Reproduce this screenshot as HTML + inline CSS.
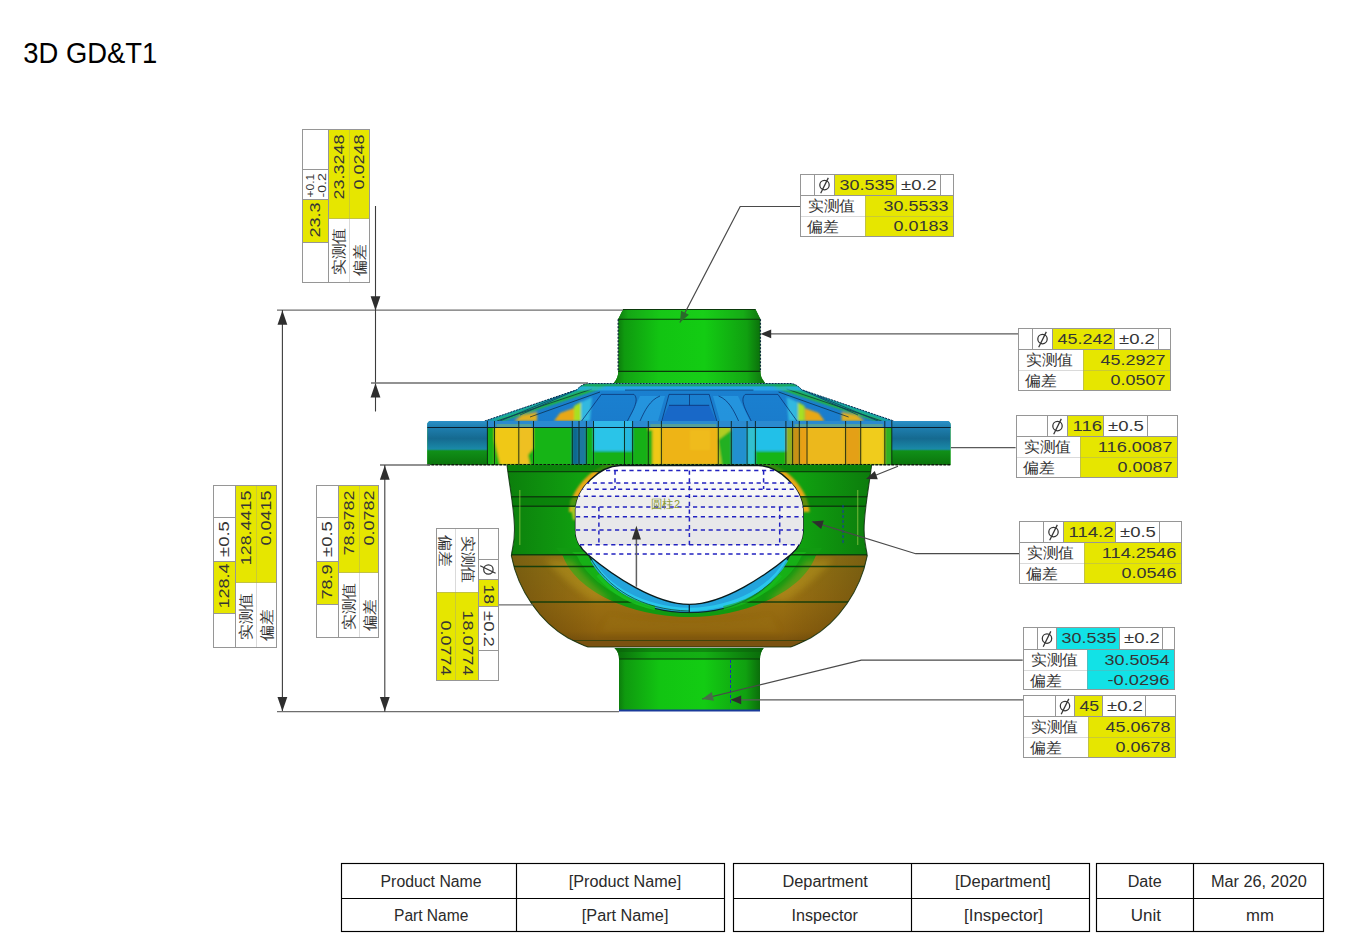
<!DOCTYPE html><html><head><meta charset="utf-8"><style>html,body{margin:0;padding:0;background:#fff;width:1345px;height:951px;overflow:hidden}svg{display:block}</style></head><body>
<svg width="1345" height="951" viewBox="0 0 1345 951" style="font-family:'Liberation Sans', sans-serif">
<rect width="1345" height="951" fill="#fff"/>
<text x="23.30" y="62.90" font-size="29.2" fill="#000" text-anchor="start" textLength="134.00" lengthAdjust="spacingAndGlyphs" >3D GD&amp;T1</text>
<defs>
<filter id="fb" x="-5%" y="-20%" width="110%" height="140%"><feGaussianBlur stdDeviation="1.2"/></filter>
<filter id="fb2" x="-5%" y="-20%" width="110%" height="140%"><feGaussianBlur stdDeviation="0.9"/></filter>
<filter id="fb3" x="-20%" y="-20%" width="140%" height="140%"><feGaussianBlur stdDeviation="3"/></filter>
<linearGradient id="gcyl" x1="0" x2="1" y1="0" y2="0">
 <stop offset="0" stop-color="#0a680a"/><stop offset="0.07" stop-color="#0f9a0f"/>
 <stop offset="0.3" stop-color="#12c412"/><stop offset="0.6" stop-color="#13cc13"/>
 <stop offset="0.88" stop-color="#10a010"/><stop offset="1" stop-color="#0a600a"/>
</linearGradient>
<linearGradient id="gcyl2" x1="0" x2="1" y1="0" y2="0">
 <stop offset="0" stop-color="#0a6a0a"/><stop offset="0.25" stop-color="#12a812"/>
 <stop offset="0.6" stop-color="#14b014"/><stop offset="1" stop-color="#0a6a0a"/>
</linearGradient>
<linearGradient id="gbody" x1="0" x2="1" y1="0" y2="0">
 <stop offset="0" stop-color="#0c7e0c"/><stop offset="0.2" stop-color="#10a010"/>
 <stop offset="0.8" stop-color="#10a010"/><stop offset="1" stop-color="#0c7a0c"/>
</linearGradient>
<linearGradient id="gbrown" x1="0" x2="0" y1="0" y2="1">
 <stop offset="0" stop-color="#9c7c16"/><stop offset="0.5" stop-color="#9a7012"/>
 <stop offset="0.82" stop-color="#8e620e"/><stop offset="1" stop-color="#6e4a0c"/>
</linearGradient>
<linearGradient id="gbrownx" x1="0" x2="1" y1="0" y2="0">
 <stop offset="0" stop-color="#000" stop-opacity="0.25"/><stop offset="0.25" stop-color="#000" stop-opacity="0"/>
 <stop offset="0.75" stop-color="#000" stop-opacity="0"/><stop offset="1" stop-color="#000" stop-opacity="0.25"/>
</linearGradient>
<linearGradient id="gteal" x1="0" x2="0" y1="0" y2="1">
 <stop offset="0" stop-color="#2a90c8"/><stop offset="0.14" stop-color="#1f7fb0"/><stop offset="0.4" stop-color="#156a90"/>
 <stop offset="0.64" stop-color="#1a8aa8"/><stop offset="0.68" stop-color="#109018"/>
 <stop offset="1" stop-color="#0b740c"/>
</linearGradient>
<linearGradient id="gcone" x1="0" x2="0" y1="0" y2="1">
 <stop offset="0" stop-color="#2098e0"/><stop offset="0.2" stop-color="#1a80d0"/>
 <stop offset="1" stop-color="#1a7ccc"/>
</linearGradient>
<clipPath id="cbody"><path d="M507,465 C510,490 514.5,510 514.5,530 C514.5,545 511.5,550 511.4,556 C518,590 540,622 568,638 C576,642 582,645 588,647 L790.6,647 C796.6,645 802.6,642 810.6,638 C838.6,622 860.6,590 867.2,556 C867.1,550 864.1,545 864.1,530 C864.1,510 868.6,490 871.6,465 Z"/></clipPath>
<clipPath id="cflange"><path d="M427.3,425 Q427.3,421 431.5,421 L946.4,421 Q950.6,421 950.6,425 L950.6,464.7 L427.3,464.7 Z"/></clipPath>
<clipPath id="ccone"><path d="M484.7,421 L576.8,389.7 Q582,384 587.7,383.5 L791,383.5 Q796.5,384 801.8,389.7 L893.9,421 Z"/></clipPath>
</defs>
<path d="M613.8,383 C617,379 618.2,376 618.2,371.4 L618.2,319.2 L623,309.5 L755.6,309.5 L760.4,319.2 L760.4,371.4 C760.4,376 762,379 765,383 Z" fill="url(#gcyl)"/>
<path d="M623,309.5 L755.6,309.5 L760.4,319.2 L618.2,319.2 Z" fill="url(#gcyl)"/>
<path d="M623,309.5 L755.6,309.5 L760.4,319.2 L618.2,319.2 Z" fill="#30e030" opacity="0.18"/>
<path d="M618.2,371.4 L760.4,371.4 C760.4,376 762,379 765,383 L613.8,383 C617,379 618.2,376 618.2,371.4 Z" fill="url(#gcyl)"/>
<path d="M618.2,371.4 L760.4,371.4 C760.4,376 762,379 765,383 L613.8,383 C617,379 618.2,376 618.2,371.4 Z" fill="#30e030" opacity="0.15"/>
<path d="M623,309.5 L755.6,309.5 M618.2,319.2 L760.4,319.2 M618.2,371.4 L760.4,371.4" stroke="#0b3a0b" stroke-width="1.1" fill="none"/>
<path d="M618.2,319.2 L618.2,371.4 M760.4,319.2 L760.4,371.4" stroke="#0a2a3a" stroke-width="1.3" fill="none" stroke-dasharray="2,1.5"/>
<g clip-path="url(#ccone)">
<rect x="480" y="383" width="420" height="40" fill="url(#gcone)"/>
<g filter="url(#fb2)">
<polygon points="484.7,421.0 587.0,384.0 598.0,385.0 494.0,421.0" fill="#18a8a0"/>
<polygon points="494.0,421.0 598.0,385.0 606.0,387.0 503.0,421.0" fill="#20b838"/>
<polygon points="514.0,421.0 522.0,415.0 537.0,412.0 537.0,421.0" fill="#e0b020"/>
<polygon points="554.0,421.0 560.0,413.0 574.0,408.0 574.0,421.0" fill="#e8a818"/>
<polygon points="574.0,421.0 574.0,406.0 581.0,402.0 581.0,421.0" fill="#a8e020"/>
<polygon points="581.0,421.0 581.0,402.0 592.0,397.0 590.0,421.0" fill="#30b8e0"/>
<polygon points="893.9,421.0 791.6,384.0 780.6,385.0 884.6,421.0" fill="#18a8a0"/>
<polygon points="884.6,421.0 780.6,385.0 772.6,387.0 875.6,421.0" fill="#20b838"/>
<polygon points="864.6,421.0 856.6,415.0 841.6,412.0 841.6,421.0" fill="#e0b020"/>
<polygon points="824.6,421.0 818.6,413.0 804.6,408.0 804.6,421.0" fill="#e8a818"/>
<polygon points="804.6,421.0 804.6,406.0 797.6,402.0 797.6,421.0" fill="#a8e020"/>
<polygon points="797.6,421.0 797.6,402.0 786.6,397.0 788.6,421.0" fill="#30b8e0"/>
</g>
<path d="M497,421 L592,389 M881.6,421 L786.6,389 M530,417 L600,392 M848.6,417 L778.6,392" stroke="#0a2a40" stroke-width="0.9" fill="none" opacity="0.8"/>
<path d="M640,396 L665,396 L658,421 L628,421 Z" fill="#30b0f0" opacity="0.45"/>
<path d="M713,396 L738,396 L750,421 L720,421 Z" fill="#30b0f0" opacity="0.45"/>
<path d="M669,405 L709,405 L716,421 L662,421 Z" fill="#1868c8"/>
<rect x="480" y="383.5" width="420" height="3" fill="#18a850" opacity="0.8"/>
<rect x="480" y="386.5" width="420" height="4" fill="#30b8f0" opacity="0.6"/>
<path d="M625,390.1 L753.4,390.1 M601.3,394.4 L634,394.4 M669,394.4 L709.2,394.4 M745.2,394.4 L777.9,394.4 M669,405.3 L709.2,405.3 M689.5,394.4 L689.5,405.3 M669,394.4 L661.8,421 M709.2,394.4 L716.8,421 M601.3,394.4 L581.6,421 M777.9,394.4 L797,421 M634,394.4 C640,400 632,412 627.4,421 M745.2,394.4 C739,400 747,412 751.2,421 M660,396 C650,400 645,410 640,421 M718.6,396 C728.6,400 733.6,410 738.6,421 M576.8,389.7 L520,415 M801.8,389.7 L858,415 M560,396 L500,421 M818,396 L878,421" stroke="#0a3070" stroke-width="0.9" fill="none" opacity="0.85"/>
</g>
<path d="M484.7,421 L576.8,389.7 Q582,384 587.7,383.5 L791,383.5 Q796.5,384 801.8,389.7 L893.9,421" stroke="#0a2a4a" stroke-width="1" fill="none" stroke-dasharray="2,1"/>
<g clip-path="url(#cflange)">
<rect x="427" y="421" width="524" height="44" fill="#14b014"/>
<g filter="url(#fb)">
<rect x="487.4" y="421" width="7.100000000000023" height="44" fill="#18b018"/>
<rect x="494.5" y="421" width="24.299999999999955" height="44" fill="#f0c818"/>
<rect x="518.8" y="421" width="14.700000000000045" height="44" fill="#eec020"/>
<rect x="533.5" y="421" width="38.799999999999955" height="44" fill="#14b414"/>
<rect x="572.3" y="421" width="14.100000000000023" height="44" fill="#1a78a0"/>
<rect x="586.4" y="421" width="7.100000000000023" height="44" fill="#16b016"/>
<rect x="593.5" y="421" width="31.0" height="44" fill="#2cc4e8"/>
<rect x="624.5" y="421" width="8.100000000000023" height="44" fill="#28b8e0"/>
<rect x="632.6" y="421" width="15.699999999999932" height="44" fill="#14b014"/>
<rect x="648.3" y="421" width="13.100000000000023" height="44" fill="#f0c818"/>
<rect x="661.4" y="421" width="56.89999999999998" height="44" fill="#eeb418"/>
<rect x="718.3" y="421" width="13.0" height="44" fill="#b0cc20"/>
<rect x="731.3" y="421" width="15.800000000000068" height="44" fill="#2090d0"/>
<rect x="747.1" y="421" width="8.299999999999955" height="44" fill="#30c0d0"/>
<rect x="755.4" y="421" width="30.5" height="44" fill="#22c0e8"/>
<rect x="785.9" y="421" width="6.7000000000000455" height="44" fill="#90b020"/>
<rect x="792.6" y="421" width="6.699999999999932" height="44" fill="#c89018"/>
<rect x="799.3" y="421" width="7.7000000000000455" height="44" fill="#e8a018"/>
<rect x="807" y="421" width="38.60000000000002" height="44" fill="#ecb81c"/>
<rect x="845.6" y="421" width="15.100000000000023" height="44" fill="#e4a018"/>
<rect x="860.7" y="421" width="24.09999999999991" height="44" fill="#f0cc1c"/>
<rect x="884.8" y="421" width="7.0" height="44" fill="#30b020"/>
<rect x="593.5" y="451" width="39" height="14" fill="#14b014"/>
<rect x="755.4" y="451" width="30.5" height="14" fill="#14b414"/>
<path d="M494.5,440 L500,465 L494.5,465 Z" fill="#18b018"/>
<path d="M528,455 L533.5,448 L533.5,465 L530,465 Z" fill="#18b018"/>
<path d="M718.3,440 L731.3,430 L731.3,465 L722,465 Z" fill="#20b020"/>
<rect x="648.3" y="430" width="4" height="35" fill="#18b018"/>
<rect x="572.3" y="428" width="5" height="37" fill="#106890"/>
<rect x="690" y="430" width="20" height="20" fill="#f0c020" opacity="0.6"/>
</g>
<rect x="427" y="421" width="524" height="6.7" fill="#2a8ad0"/>
<rect x="496.5" y="424" width="35.0" height="3.7" fill="#a8c830" opacity="0.35"/>
<rect x="650.3" y="424" width="66.0" height="3.7" fill="#a8c830" opacity="0.35"/>
<rect x="794.6" y="424" width="88.19999999999993" height="3.7" fill="#a8c830" opacity="0.35"/>
<rect x="593.5" y="421" width="39" height="6.7" fill="#30b8e8"/>
<rect x="427" y="421" width="60.4" height="44" fill="url(#gteal)"/>
<rect x="891.8" y="421" width="58.8" height="44" fill="url(#gteal)"/>
<path d="M487.4,421 L487.4,465 M494.5,421 L494.5,465 M518.8,421 L518.8,465 M533.5,421 L533.5,465 M572.3,421 L572.3,465 M579,421 L579,465 M586.4,421 L586.4,465 M593.5,421 L593.5,465 M624.5,421 L624.5,465 M632.6,421 L632.6,465 M648.3,421 L648.3,465 M661.4,421 L661.4,465 M718.3,421 L718.3,465 M731.3,421 L731.3,465 M747.1,421 L747.1,465 M755.4,421 L755.4,465 M785.9,421 L785.9,465 M792.6,421 L792.6,465 M799.3,421 L799.3,465 M807,421 L807,465 M845.6,421 L845.6,465 M860.7,421 L860.7,465 M884.8,421 L884.8,465 M891.8,421 L891.8,465" stroke="#0a1a10" stroke-width="1" fill="none" opacity="0.85"/>
<path d="M427,427.5 L951,427.5" stroke="#0a2030" stroke-width="1.1"/>
</g>
<path d="M427.3,464.7 L950.6,464.7" stroke="#0a1a0a" stroke-width="1.4" stroke-dasharray="3,1"/>
<g clip-path="url(#cbody)">
<rect x="505" y="464" width="370" height="92" fill="url(#gbody)"/>
<rect x="505" y="555" width="370" height="93" fill="url(#gbrown)"/>
<rect x="505" y="555" width="370" height="93" fill="url(#gbrownx)"/>
<path d="M560,556 L577,556 C592,582 632,616 689.3,616 C746.6,616 786.6,582 801.6,556 L818.6,556 C800,600 740,622 689.3,622 C638.6,622 578,600 560,556 Z" fill="#b09a1a" opacity="0.0"/>
<path d="M556,548 L563,556 C575,590 630,617 689.3,617 C748.6,617 803.6,590 815.6,556 L822.6,548 Z" fill="#119a11"/>
<path d="M572,552 L577,556 C590,585 635,612 689.3,614 C743.6,612 788.6,585 801.6,556 L806.6,552 Z" fill="#16b016"/>
<g filter="url(#fb3)" opacity="0.4">
<path d="M545,560 C560,575 575,590 592,600 L612,600 C592,585 580,570 572,560 Z" fill="#c0a020"/>
<path d="M833.6,560 C818.6,575 803.6,590 786.6,600 L766.6,600 C786.6,585 798.6,570 806.6,560 Z" fill="#c0a020"/>
<path d="M610,616 C640,625 740,625 770,616 L780,632 L600,632 Z" fill="#a88414" opacity="0.5"/>
</g>
<g filter="url(#fb2)">
<path d="M569,512 C570,488 596,462 620,461 L622,468 C600,468 577,490 577,512 Z" fill="#e8a818"/>
<path d="M809.6,512 C808.6,488 782.6,462 758.6,461 L756.6,468 C778.6,468 801.6,490 801.6,512 Z" fill="#e8a818"/>
<path d="M570,500 C571,508 572,515 573,520 L578,520 L578,500 Z" fill="#a8c820"/>
</g>
<rect x="505" y="465" width="370" height="6.6" fill="#0a800a" opacity="0.8"/>
<rect x="505" y="496.7" width="370" height="9.6" fill="#087a08" opacity="0.6"/>
<path d="M505,471.6 L875,471.6 M505,496.7 L875,496.7 M505,506.3 L875,506.3 M505,554.7 L875,554.7 M505,566.5 L875,566.5 M505,602 L875,602 M566,640.6 L812.6,640.6" stroke="#0b3a0b" stroke-width="1.4" fill="none" opacity="0.9"/>
<rect x="505" y="640.6" width="370" height="7" fill="#7a5210"/>
</g>
<path d="M507,465 C510,490 514.5,510 514.5,530 C514.5,545 511.5,550 511.4,556 C518,590 540,622 568,638 C576,642 582,645 588,647 L790.6,647 C796.6,645 802.6,642 810.6,638 C838.6,622 860.6,590 867.2,556 C867.1,550 864.1,545 864.1,530 C864.1,510 868.6,490 871.6,465" stroke="#0a2a0a" stroke-width="1.1" fill="none" opacity="0.8"/>
<path d="M857.7,490 L857.7,545 M519.8,490 L519.8,545" stroke="#b0d850" stroke-width="1.3" opacity="0.5"/>
<path d="M843,505 L843,545" stroke="#1a30b0" stroke-width="1" stroke-dasharray="3,2"/>
<path d="M575.5,530 C575.5,540 580,548 589.3,556 C605,590 640,612.6 689.3,612.6 C738.6,612.6 773.6,590 789.3,556 C798.6,548 803,540 803,530 Z" fill="#24a4dc" stroke="#0a2a2a" stroke-width="1.3"/>
<path d="M592,560 C606,586 640,608 689.3,609.5 C738.6,608 772.6,586 786.6,560" stroke="#2cd0f0" stroke-width="3.5" fill="none" opacity="0.8"/>
<path d="M598,575 C612,592 630,603 655,608" stroke="#18c020" stroke-width="4" fill="none" opacity="0.9"/>
<path d="M780.6,575 C766.6,592 748.6,603 723.6,608" stroke="#18c020" stroke-width="4" fill="none" opacity="0.6"/>
<path d="M590,557 C607,588 641,610 689.3,611" stroke="#0a3a1a" stroke-width="1" fill="none" opacity="0.7"/>
<path d="M620,465.5 L758.6,465.5 C778.6,466 802.6,488 803.1,510 L803.1,530 C803.1,540 798.6,548 791.2,554.2 C766.6,575 723.6,604.4 689.3,604.4 C655,604.4 612,575 587.4,554.2 C580,548 575.5,540 575.5,530 L575.5,510 C576,488 600,466 620,465.5 Z" fill="#ffffff" stroke="#0a1a1a" stroke-width="1.3"/>
<path d="M689.3,604 L689.3,612" stroke="#0a2a3a" stroke-width="1.3"/>
<clipPath id="cwin"><path d="M620,465.5 L758.6,465.5 C778.6,466 802.6,488 803.1,510 L803.1,530 C803.1,540 798.6,548 791.2,554.2 C766.6,575 723.6,604.4 689.3,604.4 C655,604.4 612,575 587.4,554.2 C580,548 575.5,540 575.5,530 L575.5,510 C576,488 600,466 620,465.5 Z"/></clipPath>
<g clip-path="url(#cwin)">
<rect x="570" y="496" width="240" height="11" fill="#ededed"/>
<rect x="570" y="507" width="240" height="10" fill="#f1f1f1"/>
<rect x="570" y="517" width="240" height="28" fill="#e8e8ea"/>
<rect x="570" y="483" width="240" height="13" fill="#f7f7f7"/>
</g>
<path d="M606,470.5 L775,470.5 M585,483.1 L795,483.1 M579,489.2 L800,489.2 M576,496.3 L803,496.3 M576,507.1 L803,507.1 M576,516.8 L803,516.8 M576,530 L803,530 M580,544.7 L799,544.7 M588,554.1 L791,554.1" stroke="#2222c0" stroke-width="1.5" stroke-dasharray="4.2,3.6" fill="none" clip-path="url(#cwin)"/>
<path d="M615,470.5 L615,489 M763.6,470.5 L763.6,489 M689.4,470.5 L689.4,545 M598.9,507 L598.9,545 M779.7,507 L779.7,545" stroke="#2222c0" stroke-width="1.5" stroke-dasharray="4.2,3.6" fill="none"/>
<text x="651" y="507.5" font-size="11.5" fill="#8a9a38" textLength="29" lengthAdjust="spacingAndGlyphs">圆柱2</text>
<path d="M614.5,648 L763.7,648 C761,651 760,655 760,659 L760,711 L619,711 L619,659 C619,655 618,651 614.5,648 Z" fill="url(#gcyl)"/>
<path d="M614.5,648 L763.7,648 C761,651 760,655 760,659 L619,659 C619,655 618,651 614.5,648 Z" fill="url(#gcyl2)"/>
<path d="M616,648 L762.2,648 C761.5,649 761,650.5 760.8,652 L618.2,652 C618,650.5 617,649 616,648 Z" fill="#0a5a0a" opacity="0.45"/>
<path d="M619,659 L760,659" stroke="#0b3a0b" stroke-width="1.1"/>
<path d="M619,710.5 L760,710.5" stroke="#1a3a9a" stroke-width="2"/>
<path d="M730.5,660 L730.5,705" stroke="#1a30b0" stroke-width="1" stroke-dasharray="3,2"/>
<path d="M277.0,310.1 L623.0,310.1" fill="none" stroke="#6e6e6e" stroke-width="1.3"/>
<path d="M282.4,310.0 L282.4,711.7" fill="none" stroke="#3c3c3c" stroke-width="1.1"/>
<path d="M282.4,310.5 L287.3,324.7 L277.5,324.7 Z" fill="#2e2e2e"/>
<path d="M282.4,711.2 L277.5,697.0 L287.3,697.0 Z" fill="#2e2e2e"/>
<path d="M277.0,711.7 L619.0,711.7" fill="none" stroke="#6e6e6e" stroke-width="1.3"/>
<path d="M375.5,206.0 L375.5,411.5" fill="none" stroke="#3c3c3c" stroke-width="1.1"/>
<path d="M375.5,310.5 L370.6,296.3 L380.4,296.3 Z" fill="#2e2e2e"/>
<path d="M375.5,383.2 L380.4,397.4 L370.6,397.4 Z" fill="#2e2e2e"/>
<path d="M371.0,383.0 L588.0,383.0" fill="none" stroke="#6e6e6e" stroke-width="1.3"/>
<path d="M380.0,465.0 L430.0,465.0" fill="none" stroke="#6e6e6e" stroke-width="1.3"/>
<path d="M384.8,465.0 L384.8,711.7" fill="none" stroke="#3c3c3c" stroke-width="1.1"/>
<path d="M384.8,465.5 L389.7,479.7 L379.9,479.7 Z" fill="#2e2e2e"/>
<path d="M384.8,711.2 L379.9,697.0 L389.7,697.0 Z" fill="#2e2e2e"/>
<path d="M800.4,206.5 L740.2,206.5 L679.9,322.5" fill="none" stroke="#4a4a4a" stroke-width="1.2"/>
<path d="M679.9,322.5 L681.1,310.7 L688.9,314.8 Z" fill="#2a6a2a"/>
<path d="M1018.4,333.9 L770.0,333.9" fill="none" stroke="#5a5a5a" stroke-width="1.3"/>
<path d="M760.5,333.9 L771.2,329.5 L771.2,338.3 Z" fill="#2e2e2e"/>
<path d="M1015.6,447.6 L951.0,447.6" fill="none" stroke="#5a5a5a" stroke-width="1.3"/>
<path d="M898.0,466.2 L870.0,477.5" fill="none" stroke="#4a4a4a" stroke-width="1.2"/>
<path d="M866.0,479.0 L874.8,471.1 L877.8,479.3 Z" fill="#2e2e2e"/>
<path d="M1019.4,553.7 L915.7,553.7 L812.0,521.6" fill="none" stroke="#4a4a4a" stroke-width="1.2"/>
<path d="M812.0,521.6 L823.8,520.6 L821.2,529.1 Z" fill="#2e2e2e"/>
<path d="M1022.7,660.2 L861.3,660.2 L702.2,699.0" fill="none" stroke="#4a4a4a" stroke-width="1.2"/>
<path d="M702.2,699.0 L711.8,692.1 L713.9,700.7 Z" fill="#4a6a4a"/>
<path d="M1023.4,699.8 L740.0,699.8" fill="none" stroke="#5a5a5a" stroke-width="1.3"/>
<path d="M730.5,699.8 L741.2,695.4 L741.2,704.2 Z" fill="#2e2e2e"/>
<path d="M498.6,604.8 L532.6,604.8" fill="none" stroke="#6e6e6e" stroke-width="1.3"/>
<path d="M636.4,586.7 L636.4,535.0" fill="none" stroke="#606060" stroke-width="1.5"/>
<path d="M636.4,525.7 L640.9,539.4 L631.9,539.4 Z" fill="#2e2e2e"/>
<g transform="translate(800,174) rotate(0)">
<rect x="0" y="0" width="154" height="63" fill="#fff"/>
<rect x="34" y="0" width="62" height="21" fill="#e6e600"/>
<rect x="65" y="21" width="89" height="42" fill="#e6e600"/>
<rect x="0.5" y="0.5" width="153" height="62" fill="none" stroke="#969696" stroke-width="1"/>
<line x1="0" y1="21.5" x2="154" y2="21.5" stroke="#969696" stroke-width="1"/>
<line x1="0" y1="42.5" x2="154" y2="42.5" stroke="#969696" stroke-width="1" stroke-opacity="0.35"/>
<line x1="14.5" y1="0" x2="14.5" y2="21" stroke="#969696" stroke-width="1"/>
<line x1="34.5" y1="0" x2="34.5" y2="21" stroke="#969696" stroke-width="1"/>
<line x1="96.5" y1="0" x2="96.5" y2="21" stroke="#969696" stroke-width="1"/>
<line x1="140.5" y1="0" x2="140.5" y2="21" stroke="#969696" stroke-width="1"/>
<line x1="65.5" y1="21" x2="65.5" y2="63" stroke="#969696" stroke-width="1" stroke-opacity="0.45"/>
<circle cx="24.50" cy="11.10" r="4.7" fill="none" stroke="#353535" stroke-width="1.25"/>
<line x1="20.70" y1="19.30" x2="28.30" y2="3.90" stroke="#353535" stroke-width="1.25"/>
<text x="39.50" y="15.90" font-size="15.5" fill="#353535" text-anchor="start" textLength="54.90" lengthAdjust="spacingAndGlyphs" >30.535</text>
<text x="101.00" y="15.90" font-size="15.5" fill="#353535" text-anchor="start" textLength="35.92" lengthAdjust="spacingAndGlyphs" >±0.2</text>
<text x="148.40" y="36.60" font-size="15.5" fill="#353535" text-anchor="end" textLength="64.76" lengthAdjust="spacingAndGlyphs" >30.5533</text>
<text x="148.40" y="57.10" font-size="15.5" fill="#353535" text-anchor="end" textLength="54.90" lengthAdjust="spacingAndGlyphs" >0.0183</text>
<text x="7.8" y="36.80" font-size="15.2" fill="#353535" textLength="47.5" lengthAdjust="spacingAndGlyphs">实测值</text>
<text x="7.4" y="57.80" font-size="15.2" fill="#353535" textLength="31.5" lengthAdjust="spacingAndGlyphs">偏差</text>
</g>
<g transform="translate(1018,328) rotate(0)">
<rect x="0" y="0" width="153" height="63" fill="#fff"/>
<rect x="34" y="0" width="62" height="21" fill="#e6e600"/>
<rect x="65" y="21" width="88" height="42" fill="#e6e600"/>
<rect x="0.5" y="0.5" width="152" height="62" fill="none" stroke="#969696" stroke-width="1"/>
<line x1="0" y1="21.5" x2="153" y2="21.5" stroke="#969696" stroke-width="1"/>
<line x1="0" y1="42.5" x2="153" y2="42.5" stroke="#969696" stroke-width="1" stroke-opacity="0.35"/>
<line x1="14.5" y1="0" x2="14.5" y2="21" stroke="#969696" stroke-width="1"/>
<line x1="34.5" y1="0" x2="34.5" y2="21" stroke="#969696" stroke-width="1"/>
<line x1="96.5" y1="0" x2="96.5" y2="21" stroke="#969696" stroke-width="1"/>
<line x1="140.5" y1="0" x2="140.5" y2="21" stroke="#969696" stroke-width="1"/>
<line x1="65.5" y1="21" x2="65.5" y2="63" stroke="#969696" stroke-width="1" stroke-opacity="0.45"/>
<circle cx="24.50" cy="11.10" r="4.7" fill="none" stroke="#353535" stroke-width="1.25"/>
<line x1="20.70" y1="19.30" x2="28.30" y2="3.90" stroke="#353535" stroke-width="1.25"/>
<text x="39.50" y="15.90" font-size="15.5" fill="#353535" text-anchor="start" textLength="54.90" lengthAdjust="spacingAndGlyphs" >45.242</text>
<text x="101.00" y="15.90" font-size="15.5" fill="#353535" text-anchor="start" textLength="35.92" lengthAdjust="spacingAndGlyphs" >±0.2</text>
<text x="147.40" y="36.60" font-size="15.5" fill="#353535" text-anchor="end" textLength="64.76" lengthAdjust="spacingAndGlyphs" >45.2927</text>
<text x="147.40" y="57.10" font-size="15.5" fill="#353535" text-anchor="end" textLength="54.90" lengthAdjust="spacingAndGlyphs" >0.0507</text>
<text x="7.8" y="36.80" font-size="15.2" fill="#353535" textLength="47.5" lengthAdjust="spacingAndGlyphs">实测值</text>
<text x="7.4" y="57.80" font-size="15.2" fill="#353535" textLength="31.5" lengthAdjust="spacingAndGlyphs">偏差</text>
</g>
<g transform="translate(1016,415) rotate(0)">
<rect x="0" y="0" width="162" height="63" fill="#fff"/>
<rect x="51" y="0" width="36" height="21" fill="#e6e600"/>
<rect x="64" y="21" width="98" height="42" fill="#e6e600"/>
<rect x="0.5" y="0.5" width="161" height="62" fill="none" stroke="#969696" stroke-width="1"/>
<line x1="0" y1="21.5" x2="162" y2="21.5" stroke="#969696" stroke-width="1"/>
<line x1="0" y1="42.5" x2="162" y2="42.5" stroke="#969696" stroke-width="1" stroke-opacity="0.35"/>
<line x1="31.5" y1="0" x2="31.5" y2="21" stroke="#969696" stroke-width="1"/>
<line x1="51.5" y1="0" x2="51.5" y2="21" stroke="#969696" stroke-width="1"/>
<line x1="87.5" y1="0" x2="87.5" y2="21" stroke="#969696" stroke-width="1"/>
<line x1="131.5" y1="0" x2="131.5" y2="21" stroke="#969696" stroke-width="1"/>
<line x1="64.5" y1="21" x2="64.5" y2="63" stroke="#969696" stroke-width="1" stroke-opacity="0.45"/>
<circle cx="41.50" cy="11.10" r="4.7" fill="none" stroke="#353535" stroke-width="1.25"/>
<line x1="37.70" y1="19.30" x2="45.30" y2="3.90" stroke="#353535" stroke-width="1.25"/>
<text x="56.50" y="15.90" font-size="15.5" fill="#353535" text-anchor="start" textLength="29.58" lengthAdjust="spacingAndGlyphs" >116</text>
<text x="92.00" y="15.90" font-size="15.5" fill="#353535" text-anchor="start" textLength="35.92" lengthAdjust="spacingAndGlyphs" >±0.5</text>
<text x="156.40" y="36.60" font-size="15.5" fill="#353535" text-anchor="end" textLength="74.62" lengthAdjust="spacingAndGlyphs" >116.0087</text>
<text x="156.40" y="57.10" font-size="15.5" fill="#353535" text-anchor="end" textLength="54.90" lengthAdjust="spacingAndGlyphs" >0.0087</text>
<text x="7.8" y="36.80" font-size="15.2" fill="#353535" textLength="47.5" lengthAdjust="spacingAndGlyphs">实测值</text>
<text x="7.4" y="57.80" font-size="15.2" fill="#353535" textLength="31.5" lengthAdjust="spacingAndGlyphs">偏差</text>
</g>
<g transform="translate(1019,521) rotate(0)">
<rect x="0" y="0" width="163" height="63" fill="#fff"/>
<rect x="44" y="0" width="52" height="21" fill="#e6e600"/>
<rect x="65" y="21" width="98" height="42" fill="#e6e600"/>
<rect x="0.5" y="0.5" width="162" height="62" fill="none" stroke="#969696" stroke-width="1"/>
<line x1="0" y1="21.5" x2="163" y2="21.5" stroke="#969696" stroke-width="1"/>
<line x1="0" y1="42.5" x2="163" y2="42.5" stroke="#969696" stroke-width="1" stroke-opacity="0.35"/>
<line x1="24.5" y1="0" x2="24.5" y2="21" stroke="#969696" stroke-width="1"/>
<line x1="44.5" y1="0" x2="44.5" y2="21" stroke="#969696" stroke-width="1"/>
<line x1="96.5" y1="0" x2="96.5" y2="21" stroke="#969696" stroke-width="1"/>
<line x1="140.5" y1="0" x2="140.5" y2="21" stroke="#969696" stroke-width="1"/>
<line x1="65.5" y1="21" x2="65.5" y2="63" stroke="#969696" stroke-width="1" stroke-opacity="0.45"/>
<circle cx="34.50" cy="11.10" r="4.7" fill="none" stroke="#353535" stroke-width="1.25"/>
<line x1="30.70" y1="19.30" x2="38.30" y2="3.90" stroke="#353535" stroke-width="1.25"/>
<text x="49.50" y="15.90" font-size="15.5" fill="#353535" text-anchor="start" textLength="45.04" lengthAdjust="spacingAndGlyphs" >114.2</text>
<text x="101.00" y="15.90" font-size="15.5" fill="#353535" text-anchor="start" textLength="35.92" lengthAdjust="spacingAndGlyphs" >±0.5</text>
<text x="157.40" y="36.60" font-size="15.5" fill="#353535" text-anchor="end" textLength="74.62" lengthAdjust="spacingAndGlyphs" >114.2546</text>
<text x="157.40" y="57.10" font-size="15.5" fill="#353535" text-anchor="end" textLength="54.90" lengthAdjust="spacingAndGlyphs" >0.0546</text>
<text x="7.8" y="36.80" font-size="15.2" fill="#353535" textLength="47.5" lengthAdjust="spacingAndGlyphs">实测值</text>
<text x="7.4" y="57.80" font-size="15.2" fill="#353535" textLength="31.5" lengthAdjust="spacingAndGlyphs">偏差</text>
</g>
<g transform="translate(1023,627) rotate(0)">
<rect x="0" y="0" width="152" height="63" fill="#fff"/>
<rect x="33" y="0" width="63" height="22" fill="#12e2e6"/>
<rect x="64" y="22" width="88" height="41" fill="#12e2e6"/>
<rect x="0.5" y="0.5" width="151" height="62" fill="none" stroke="#969696" stroke-width="1"/>
<line x1="0" y1="22.5" x2="152" y2="22.5" stroke="#969696" stroke-width="1"/>
<line x1="0" y1="43.5" x2="152" y2="43.5" stroke="#969696" stroke-width="1" stroke-opacity="0.35"/>
<line x1="14.5" y1="0" x2="14.5" y2="22" stroke="#969696" stroke-width="1"/>
<line x1="33.5" y1="0" x2="33.5" y2="22" stroke="#969696" stroke-width="1"/>
<line x1="96.5" y1="0" x2="96.5" y2="22" stroke="#969696" stroke-width="1"/>
<line x1="139.5" y1="0" x2="139.5" y2="22" stroke="#969696" stroke-width="1"/>
<line x1="64.5" y1="22" x2="64.5" y2="63" stroke="#969696" stroke-width="1" stroke-opacity="0.45"/>
<circle cx="24.00" cy="11.60" r="4.7" fill="none" stroke="#353535" stroke-width="1.25"/>
<line x1="20.20" y1="19.80" x2="27.80" y2="4.40" stroke="#353535" stroke-width="1.25"/>
<text x="38.50" y="16.40" font-size="15.5" fill="#353535" text-anchor="start" textLength="54.90" lengthAdjust="spacingAndGlyphs" >30.535</text>
<text x="101.00" y="16.40" font-size="15.5" fill="#353535" text-anchor="start" textLength="35.92" lengthAdjust="spacingAndGlyphs" >±0.2</text>
<text x="146.40" y="37.60" font-size="15.5" fill="#353535" text-anchor="end" textLength="64.76" lengthAdjust="spacingAndGlyphs" >30.5054</text>
<text x="146.40" y="58.10" font-size="15.5" fill="#353535" text-anchor="end" textLength="61.90" lengthAdjust="spacingAndGlyphs" >-0.0296</text>
<text x="7.8" y="37.80" font-size="15.2" fill="#353535" textLength="47.5" lengthAdjust="spacingAndGlyphs">实测值</text>
<text x="7.4" y="58.80" font-size="15.2" fill="#353535" textLength="31.5" lengthAdjust="spacingAndGlyphs">偏差</text>
</g>
<g transform="translate(1023,695) rotate(0)">
<rect x="0" y="0" width="153" height="63" fill="#fff"/>
<rect x="51" y="0" width="28" height="21" fill="#e6e600"/>
<rect x="65" y="21" width="88" height="42" fill="#e6e600"/>
<rect x="0.5" y="0.5" width="152" height="62" fill="none" stroke="#969696" stroke-width="1"/>
<line x1="0" y1="21.5" x2="153" y2="21.5" stroke="#969696" stroke-width="1"/>
<line x1="0" y1="42.5" x2="153" y2="42.5" stroke="#969696" stroke-width="1" stroke-opacity="0.35"/>
<line x1="32.5" y1="0" x2="32.5" y2="21" stroke="#969696" stroke-width="1"/>
<line x1="51.5" y1="0" x2="51.5" y2="21" stroke="#969696" stroke-width="1"/>
<line x1="79.5" y1="0" x2="79.5" y2="21" stroke="#969696" stroke-width="1"/>
<line x1="122.5" y1="0" x2="122.5" y2="21" stroke="#969696" stroke-width="1"/>
<line x1="65.5" y1="21" x2="65.5" y2="63" stroke="#969696" stroke-width="1" stroke-opacity="0.45"/>
<circle cx="42.00" cy="11.10" r="4.7" fill="none" stroke="#353535" stroke-width="1.25"/>
<line x1="38.20" y1="19.30" x2="45.80" y2="3.90" stroke="#353535" stroke-width="1.25"/>
<text x="56.50" y="15.90" font-size="15.5" fill="#353535" text-anchor="start" textLength="19.72" lengthAdjust="spacingAndGlyphs" >45</text>
<text x="84.00" y="15.90" font-size="15.5" fill="#353535" text-anchor="start" textLength="35.92" lengthAdjust="spacingAndGlyphs" >±0.2</text>
<text x="147.40" y="36.60" font-size="15.5" fill="#353535" text-anchor="end" textLength="64.76" lengthAdjust="spacingAndGlyphs" >45.0678</text>
<text x="147.40" y="57.10" font-size="15.5" fill="#353535" text-anchor="end" textLength="54.90" lengthAdjust="spacingAndGlyphs" >0.0678</text>
<text x="7.8" y="36.80" font-size="15.2" fill="#353535" textLength="47.5" lengthAdjust="spacingAndGlyphs">实测值</text>
<text x="7.4" y="57.80" font-size="15.2" fill="#353535" textLength="31.5" lengthAdjust="spacingAndGlyphs">偏差</text>
</g>
<g transform="translate(302,283) rotate(-90)">
<rect x="0" y="0" width="154" height="68" fill="#fff"/>
<rect x="40" y="0" width="43" height="26" fill="#e6e600"/>
<rect x="64" y="26" width="90" height="42" fill="#e6e600"/>
<rect x="0.5" y="0.5" width="153" height="67" fill="none" stroke="#969696" stroke-width="1"/>
<line x1="0" y1="26.5" x2="154" y2="26.5" stroke="#969696" stroke-width="1"/>
<line x1="0" y1="47.5" x2="154" y2="47.5" stroke="#969696" stroke-width="1" stroke-opacity="0.35"/>
<line x1="40.5" y1="0" x2="40.5" y2="26" stroke="#969696" stroke-width="1"/>
<line x1="40.5" y1="0" x2="40.5" y2="26" stroke="#969696" stroke-width="1"/>
<line x1="83.5" y1="0" x2="83.5" y2="26" stroke="#969696" stroke-width="1"/>
<line x1="113.5" y1="0" x2="113.5" y2="26" stroke="#969696" stroke-width="1"/>
<line x1="64.5" y1="26" x2="64.5" y2="68" stroke="#969696" stroke-width="1" stroke-opacity="0.45"/>
<text x="45.50" y="18.40" font-size="15.5" fill="#353535" text-anchor="start" textLength="35.18" lengthAdjust="spacingAndGlyphs" >23.3</text>
<text x="85.50" y="11.80" font-size="10.5" fill="#353535" text-anchor="start" textLength="23.84" lengthAdjust="spacingAndGlyphs" >+0.1</text>
<text x="85.50" y="24.40" font-size="10.5" fill="#353535" text-anchor="start" textLength="24.32" lengthAdjust="spacingAndGlyphs" >-0.2</text>
<text x="148.40" y="41.60" font-size="15.5" fill="#353535" text-anchor="end" textLength="64.76" lengthAdjust="spacingAndGlyphs" >23.3248</text>
<text x="148.40" y="62.10" font-size="15.5" fill="#353535" text-anchor="end" textLength="54.90" lengthAdjust="spacingAndGlyphs" >0.0248</text>
<text x="7.8" y="41.80" font-size="15.2" fill="#353535" textLength="47.5" lengthAdjust="spacingAndGlyphs">实测值</text>
<text x="7.4" y="62.80" font-size="15.2" fill="#353535" textLength="31.5" lengthAdjust="spacingAndGlyphs">偏差</text>
</g>
<g transform="translate(213,648) rotate(-90)">
<rect x="0" y="0" width="163" height="64" fill="#fff"/>
<rect x="34" y="0" width="52" height="22" fill="#e6e600"/>
<rect x="65" y="22" width="98" height="42" fill="#e6e600"/>
<rect x="0.5" y="0.5" width="162" height="63" fill="none" stroke="#969696" stroke-width="1"/>
<line x1="0" y1="22.5" x2="163" y2="22.5" stroke="#969696" stroke-width="1"/>
<line x1="0" y1="43.5" x2="163" y2="43.5" stroke="#969696" stroke-width="1" stroke-opacity="0.35"/>
<line x1="34.5" y1="0" x2="34.5" y2="22" stroke="#969696" stroke-width="1"/>
<line x1="34.5" y1="0" x2="34.5" y2="22" stroke="#969696" stroke-width="1"/>
<line x1="86.5" y1="0" x2="86.5" y2="22" stroke="#969696" stroke-width="1"/>
<line x1="130.5" y1="0" x2="130.5" y2="22" stroke="#969696" stroke-width="1"/>
<line x1="65.5" y1="22" x2="65.5" y2="64" stroke="#969696" stroke-width="1" stroke-opacity="0.45"/>
<text x="39.50" y="16.40" font-size="15.5" fill="#353535" text-anchor="start" textLength="45.04" lengthAdjust="spacingAndGlyphs" >128.4</text>
<text x="91.00" y="16.40" font-size="15.5" fill="#353535" text-anchor="start" textLength="35.92" lengthAdjust="spacingAndGlyphs" >±0.5</text>
<text x="157.40" y="37.60" font-size="15.5" fill="#353535" text-anchor="end" textLength="74.62" lengthAdjust="spacingAndGlyphs" >128.4415</text>
<text x="157.40" y="58.10" font-size="15.5" fill="#353535" text-anchor="end" textLength="54.90" lengthAdjust="spacingAndGlyphs" >0.0415</text>
<text x="7.8" y="37.80" font-size="15.2" fill="#353535" textLength="47.5" lengthAdjust="spacingAndGlyphs">实测值</text>
<text x="7.4" y="58.80" font-size="15.2" fill="#353535" textLength="31.5" lengthAdjust="spacingAndGlyphs">偏差</text>
</g>
<g transform="translate(316,638) rotate(-90)">
<rect x="0" y="0" width="153" height="63" fill="#fff"/>
<rect x="33" y="0" width="43" height="22" fill="#e6e600"/>
<rect x="65" y="22" width="88" height="41" fill="#e6e600"/>
<rect x="0.5" y="0.5" width="152" height="62" fill="none" stroke="#969696" stroke-width="1"/>
<line x1="0" y1="22.5" x2="153" y2="22.5" stroke="#969696" stroke-width="1"/>
<line x1="0" y1="43.5" x2="153" y2="43.5" stroke="#969696" stroke-width="1" stroke-opacity="0.35"/>
<line x1="33.5" y1="0" x2="33.5" y2="22" stroke="#969696" stroke-width="1"/>
<line x1="33.5" y1="0" x2="33.5" y2="22" stroke="#969696" stroke-width="1"/>
<line x1="76.5" y1="0" x2="76.5" y2="22" stroke="#969696" stroke-width="1"/>
<line x1="120.5" y1="0" x2="120.5" y2="22" stroke="#969696" stroke-width="1"/>
<line x1="65.5" y1="22" x2="65.5" y2="63" stroke="#969696" stroke-width="1" stroke-opacity="0.45"/>
<text x="38.50" y="16.40" font-size="15.5" fill="#353535" text-anchor="start" textLength="35.18" lengthAdjust="spacingAndGlyphs" >78.9</text>
<text x="81.00" y="16.40" font-size="15.5" fill="#353535" text-anchor="start" textLength="35.92" lengthAdjust="spacingAndGlyphs" >±0.5</text>
<text x="147.40" y="37.60" font-size="15.5" fill="#353535" text-anchor="end" textLength="64.76" lengthAdjust="spacingAndGlyphs" >78.9782</text>
<text x="147.40" y="58.10" font-size="15.5" fill="#353535" text-anchor="end" textLength="54.90" lengthAdjust="spacingAndGlyphs" >0.0782</text>
<text x="7.8" y="37.80" font-size="15.2" fill="#353535" textLength="47.5" lengthAdjust="spacingAndGlyphs">实测值</text>
<text x="7.4" y="58.80" font-size="15.2" fill="#353535" textLength="31.5" lengthAdjust="spacingAndGlyphs">偏差</text>
</g>
<g transform="translate(499,528) rotate(90)">
<rect x="0" y="0" width="153" height="63" fill="#fff"/>
<rect x="51" y="0" width="27" height="20" fill="#e6e600"/>
<rect x="64" y="20" width="89" height="43" fill="#e6e600"/>
<rect x="0.5" y="0.5" width="152" height="62" fill="none" stroke="#969696" stroke-width="1"/>
<line x1="0" y1="20.5" x2="153" y2="20.5" stroke="#969696" stroke-width="1"/>
<line x1="0" y1="43.5" x2="153" y2="43.5" stroke="#969696" stroke-width="1" stroke-opacity="0.35"/>
<line x1="31.5" y1="0" x2="31.5" y2="20" stroke="#969696" stroke-width="1"/>
<line x1="51.5" y1="0" x2="51.5" y2="20" stroke="#969696" stroke-width="1"/>
<line x1="78.5" y1="0" x2="78.5" y2="20" stroke="#969696" stroke-width="1"/>
<line x1="122.5" y1="0" x2="122.5" y2="20" stroke="#969696" stroke-width="1"/>
<line x1="64.5" y1="20" x2="64.5" y2="63" stroke="#969696" stroke-width="1" stroke-opacity="0.45"/>
<circle cx="41.50" cy="10.60" r="4.7" fill="none" stroke="#353535" stroke-width="1.25"/>
<line x1="37.70" y1="18.80" x2="45.30" y2="3.40" stroke="#353535" stroke-width="1.25"/>
<text x="56.50" y="15.40" font-size="15.5" fill="#353535" text-anchor="start" textLength="19.72" lengthAdjust="spacingAndGlyphs" >18</text>
<text x="83.00" y="15.40" font-size="15.5" fill="#353535" text-anchor="start" textLength="35.92" lengthAdjust="spacingAndGlyphs" >±0.2</text>
<text x="147.40" y="35.60" font-size="15.5" fill="#353535" text-anchor="end" textLength="64.76" lengthAdjust="spacingAndGlyphs" >18.0774</text>
<text x="147.40" y="58.10" font-size="15.5" fill="#353535" text-anchor="end" textLength="54.90" lengthAdjust="spacingAndGlyphs" >0.0774</text>
<text x="7.8" y="35.80" font-size="15.2" fill="#353535" textLength="47.5" lengthAdjust="spacingAndGlyphs">实测值</text>
<text x="7.4" y="58.80" font-size="15.2" fill="#353535" textLength="31.5" lengthAdjust="spacingAndGlyphs">偏差</text>
</g>
<rect x="341.5" y="863.5" width="383.0" height="68.0" fill="none" stroke="#000" stroke-width="1.15"/>
<line x1="341.5" y1="898.5" x2="724.5" y2="898.5" stroke="#000" stroke-width="1.15"/>
<line x1="516.5" y1="863.5" x2="516.5" y2="931.5" stroke="#000" stroke-width="1.15"/>
<rect x="733.5" y="863.5" width="356.0" height="68.0" fill="none" stroke="#000" stroke-width="1.15"/>
<line x1="733.5" y1="898.5" x2="1089.5" y2="898.5" stroke="#000" stroke-width="1.15"/>
<line x1="911.5" y1="863.5" x2="911.5" y2="931.5" stroke="#000" stroke-width="1.15"/>
<rect x="1096.5" y="863.5" width="227.0" height="68.0" fill="none" stroke="#000" stroke-width="1.15"/>
<line x1="1096.5" y1="898.5" x2="1323.5" y2="898.5" stroke="#000" stroke-width="1.15"/>
<line x1="1193.5" y1="863.5" x2="1193.5" y2="931.5" stroke="#000" stroke-width="1.15"/>
<text x="380.6" y="887.0" font-size="16" fill="#2a2a2a" textLength="100.9" lengthAdjust="spacingAndGlyphs">Product Name</text>
<text x="568.7" y="887.0" font-size="16" fill="#2a2a2a" textLength="112.5" lengthAdjust="spacingAndGlyphs">[Product Name]</text>
<text x="394.0" y="921.0" font-size="16" fill="#2a2a2a" textLength="74.4" lengthAdjust="spacingAndGlyphs">Part Name</text>
<text x="581.8" y="921.0" font-size="16" fill="#2a2a2a" textLength="86.6" lengthAdjust="spacingAndGlyphs">[Part Name]</text>
<text x="782.5" y="887.0" font-size="16" fill="#2a2a2a" textLength="85.3" lengthAdjust="spacingAndGlyphs">Department</text>
<text x="954.9" y="887.0" font-size="16" fill="#2a2a2a" textLength="95.8" lengthAdjust="spacingAndGlyphs">[Department]</text>
<text x="791.6" y="921.0" font-size="16" fill="#2a2a2a" textLength="66.2" lengthAdjust="spacingAndGlyphs">Inspector</text>
<text x="964.0" y="921.0" font-size="16" fill="#2a2a2a" textLength="79.0" lengthAdjust="spacingAndGlyphs">[Inspector]</text>
<text x="1127.7" y="887.0" font-size="16" fill="#2a2a2a" textLength="34.1" lengthAdjust="spacingAndGlyphs">Date</text>
<text x="1210.9" y="887.0" font-size="16" fill="#2a2a2a" textLength="95.9" lengthAdjust="spacingAndGlyphs">Mar 26, 2020</text>
<text x="1130.7" y="921.0" font-size="16" fill="#2a2a2a" textLength="30.2" lengthAdjust="spacingAndGlyphs">Unit</text>
<text x="1246.1" y="921.0" font-size="16" fill="#2a2a2a" textLength="27.8" lengthAdjust="spacingAndGlyphs">mm</text>
</svg></body></html>
